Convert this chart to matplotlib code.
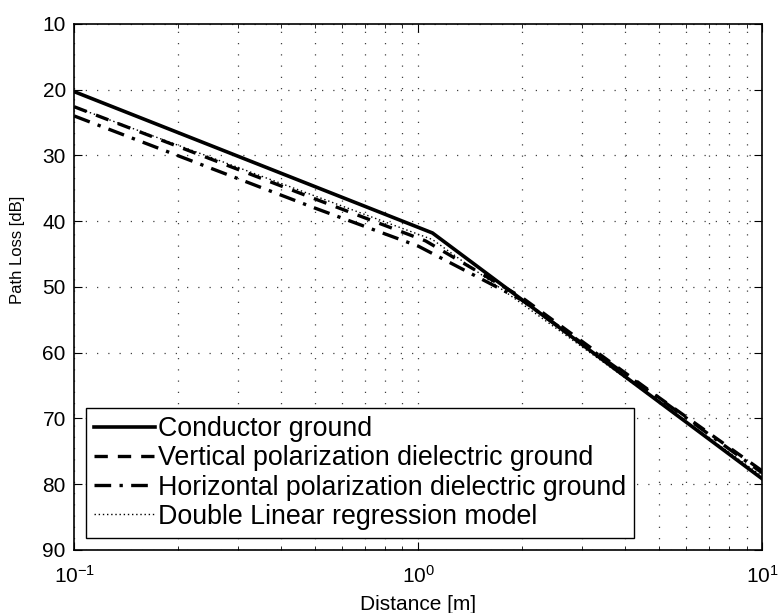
import numpy as np
import matplotlib
matplotlib.use('Agg')
import matplotlib.pyplot as plt

plt.rcParams['font.family'] = ['Liberation Sans', 'DejaVu Sans']

# path loss vs distance, read at the break points of each curve
dist_cond = [0.1, 1.1, 10.0]
loss_cond = [20.3, 41.8, 79.2]

dist_vert = [0.1, 0.5, 1.05, 2.0, 5.0, 10.0]
loss_vert = [22.6, 36.6, 43.0, 51.6, 66.8, 78.0]

dist_horz = [0.1, 0.5, 1.0, 2.0, 5.0, 10.0]
loss_horz = [24.0, 38.0, 43.8, 52.0, 66.9, 78.3]

dist_reg = [0.1, 1.1, 10.0]
loss_reg = [22.6, 42.8, 78.8]

labels = ['Conductor ground',
          'Vertical polarization dielectric ground',
          'Horizontal polarization dielectric ground',
          'Double Linear regression model']

fig = plt.figure(figsize=(7.81, 6.13), dpi=100)
ax = fig.add_axes([0.095, 0.103, 0.881, 0.858])

ax.plot(dist_cond, loss_cond, '-', color='k', lw=2.6, label=labels[0])
ax.plot(dist_vert, loss_vert, color='k', lw=2.4, dashes=(4, 3), label=labels[1])
ax.plot(dist_horz, loss_horz, color='k', lw=2.4, dashes=(5, 2.5, 1, 2.5), label=labels[2])
ax.plot(dist_reg, loss_reg, color='k', lw=1.0, dashes=(1, 2), label=labels[3])

ax.set_xscale('log')
ax.set_xlim(0.1, 10)
ax.set_ylim(90, 10)
ax.set_yticks(np.arange(10, 91, 10))

grid_style = dict(color='0.25', ls=(0, (1, 8)), lw=0.9)
ax.grid(True, which='major', axis='both', **grid_style)
ax.grid(True, which='minor', axis='x', **grid_style)

ax.tick_params(which='both', direction='in', top=True, right=True)
ax.tick_params(which='major', length=6, labelsize=15, pad=6)
ax.tick_params(which='minor', length=3)
ax.tick_params(axis='x', which='major', pad=11)
for s in ax.spines.values():
    s.set_linewidth(1.2)

ax.set_xlabel('Distance [m]', fontsize=15)
ax.set_ylabel('Path Loss [dB]', fontsize=12)
ax.xaxis.set_label_coords(0.5, -0.085)
ax.yaxis.set_label_coords(-0.072, 0.57)

leg = ax.legend(loc='lower left', fontsize=19.3, handlelength=2.25, handletextpad=0.12,
                labelspacing=0.12, borderpad=0.3, borderaxespad=0.45,
                fancybox=False, framealpha=1, edgecolor='k')
leg.get_frame().set_linewidth(1.0)

plt.savefig('out.png', dpi=100)
